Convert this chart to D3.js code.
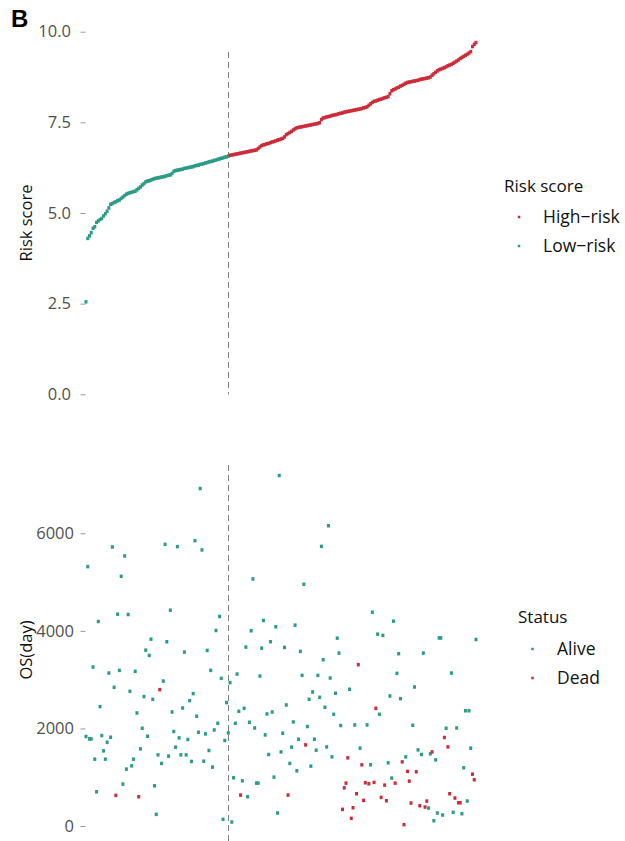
<!DOCTYPE html>
<html>
<head>
<meta charset="utf-8">
<script src="https://cdn.jsdelivr.net/npm/d3@7"></script>
<style>
  html, body { margin: 0; padding: 0; background: #ffffff; }
  svg { display: block; font-family: "Open Sans", "Noto Sans", sans-serif; }
</style>
</head>
<body>
<svg id="chart" width="625" height="841"></svg>
<script>
// Patients ordered by ascending risk score
const riskScore = [
  2.55, 4.30, 4.37, 4.46, 4.58, 4.62, 4.74, 4.78, 4.82, 4.85,
  4.92, 4.98, 5.05, 5.14, 5.24, 5.26, 5.29, 5.31, 5.34, 5.36,
  5.40, 5.44, 5.48, 5.52, 5.54, 5.56, 5.57, 5.59, 5.60, 5.64,
  5.68, 5.72, 5.77, 5.81, 5.86, 5.88, 5.89, 5.91, 5.93, 5.95,
  5.96, 5.97, 5.98, 5.99, 6.00, 6.01, 6.03, 6.04, 6.05, 6.09,
  6.15, 6.17, 6.18, 6.19, 6.20, 6.21, 6.23, 6.24, 6.25, 6.26,
  6.27, 6.28, 6.30, 6.31, 6.32, 6.34, 6.35, 6.36, 6.38, 6.39,
  6.41, 6.42, 6.43, 6.45, 6.46, 6.48, 6.49, 6.51, 6.52, 6.54,
  6.55, 6.57,
  6.59, 6.60, 6.61, 6.62, 6.63, 6.64, 6.65, 6.66, 6.67, 6.68,
  6.69, 6.70, 6.71, 6.72, 6.73, 6.74, 6.78, 6.82, 6.86, 6.88,
  6.89, 6.91, 6.92, 6.94, 6.96, 6.97, 6.99, 7.01, 7.02, 7.04,
  7.06, 7.10, 7.16, 7.19, 7.22, 7.25, 7.29, 7.32, 7.35, 7.36,
  7.37, 7.38, 7.39, 7.40, 7.41, 7.42, 7.43, 7.44, 7.45, 7.46,
  7.47, 7.49, 7.58, 7.62, 7.63, 7.65, 7.66, 7.67, 7.69, 7.70,
  7.71, 7.72, 7.74, 7.75, 7.76, 7.78, 7.79, 7.80, 7.81, 7.82,
  7.83, 7.84, 7.85, 7.86, 7.87, 7.88, 7.90, 7.91, 7.93, 7.97,
  8.01, 8.05, 8.08, 8.09, 8.11, 8.13, 8.14, 8.16, 8.18, 8.19,
  8.21, 8.29, 8.37, 8.40, 8.42, 8.45, 8.47, 8.50, 8.52, 8.55,
  8.58, 8.60, 8.61, 8.62, 8.63, 8.64, 8.65, 8.66, 8.68, 8.69,
  8.70, 8.71, 8.72, 8.73, 8.75, 8.80, 8.84, 8.88, 8.92, 8.95,
  8.97, 8.99, 9.01, 9.03, 9.06, 9.08, 9.10, 9.13, 9.16, 9.19,
  9.22, 9.26, 9.29, 9.32, 9.35, 9.38, 9.41, 9.45, 9.59, 9.65,
  9.70
];

// Number of patients in the low-risk group (the first ones in risk order)
const lowRiskCount = 82;
const riskGroups = ["High\u2212risk", "Low\u2212risk"];

// Overall survival in days, same patient order
const osDays = [
  1834, 5317, 1785, 1785, 3258, 1370, 701, 4192, 2447, 1855,
  1540, 1370, 1718, 3135, 1820, 5720, 2843, 628, 4342, 3190,
  5119, 859, 5536, 1166, 4335, 2761, 1233, 1370, 3170, 2317,
  600, 1581, 2004, 2652, 3605, 1840, 3497, 3830, 2597, 824,
  239, 1458, 2795, 1282, 2971, 5773, 3777, 1432, 4424, 2337,
  1937, 1616, 5726, 1806, 1458, 2419, 3564, 1458, 1773, 2570,
  1323, 2714, 5849, 2250, 1922, 6918, 5659, 1329, 1888, 3599,
  1548, 3190, 1207, 1969, 4008, 2106, 4295, 3027, 137, 1753,
  2530, 1908,
  2939, 82, 988, 2106, 3115, 2352, 634, 926, 2413, 3667,
  600, 2127, 4002, 5065, 2010, 879, 879, 3074, 3646, 4213,
  1867, 2297, 1466, 3777, 2337, 1002, 4084, 266, 7184, 1519,
  1902, 3661, 2481, 634, 1282, 1616, 2133, 4117, 1131, 1779,
  3579, 3088, 4955, 1663, 2039, 2597, 1227, 2747, 1779, 1554,
  3088, 2638, 5732, 3409, 2434, 1622, 6155, 3033, 1417, 2290,
  2720, 3851, 3544, 2059, 341, 783, 879, 1397, 2802, 157,
  374, 2072, 661, 3307, 1595, 1254, 525, 886, 2072, 865,
  1254, 4383, 894, 2413, 3933, 2290, 587, 3906, 838, 518,
  1295, 2665, 982, 4199, 879, 3129, 3532, 2611, 1315, 27,
  1417, 1119, 920, 470, 2065, 2849, 1111, 1560, 415, 1466,
  3544, 389, 511, 368, 1479, 1519, 108, 1356, 266, 3855,
  3855, 225, 1814, 2004, 1622, 661, 3135, 280, 573, 2010,
  477, 477, 252, 1193, 2362, 511, 2362, 1595, 1063, 947,
  3824
];

// Vital status, same patient order (0 = Alive, 1 = Dead)
const statusLabels = ["Alive", "Dead"];
const vitalStatus = [
  0,0,0,0,0,0,0,0,0,0,
  0,0,0,0,0,0,0,1,0,0,
  0,0,0,0,0,0,0,0,0,0,
  1,0,0,0,0,0,0,0,0,0,
  0,0,1,0,0,0,0,0,0,0,
  0,0,0,0,0,0,0,0,0,0,
  0,0,0,0,0,0,0,0,0,0,
  0,0,0,0,0,0,0,0,0,0,
  0,0,
  0,0,0,0,0,0,1,0,0,0,
  0,0,0,0,0,0,0,0,0,0,
  0,0,0,0,0,0,0,0,0,0,
  0,0,0,1,0,0,0,0,0,0,
  0,0,0,1,0,0,0,0,0,0,
  0,0,0,0,0,0,0,0,0,0,
  0,0,0,0,1,1,1,1,0,1,
  1,0,1,1,0,1,1,1,0,1,
  0,0,1,1,0,0,1,0,1,1,
  0,0,0,0,1,0,0,0,1,1,
  0,1,1,1,0,0,1,0,1,0,
  0,1,1,0,0,1,0,0,0,0,
  0,0,1,0,1,1,0,0,1,0,
  1,1,0,0,0,0,0,0,1,1,
  0
];

const riskTicks = [0, 2.5, 5, 7.5, 10];
const osTicks = [0, 2000, 4000, 6000];

const RED = "#cc2c39";
const GREEN = "#2a9c86";

const svg = d3.select("#chart");
const N = riskScore.length;

const x = d3.scaleLinear().domain([1, N]).range([86, 476]);
const yRisk = d3.scaleLinear().domain([0, 10]).range([394.3, 31.7]);
const yOS = d3.scaleLinear().domain([0, 6000]).range([826, 533.3]);

const patients = riskScore.map((r, i) => ({
  idx: i + 1,
  risk: r,
  group: i < lowRiskCount ? 1 : 0,
  os: osDays[i],
  status: vitalStatus[i]
}));

// Panel label
svg.append("text")
  .attr("x", 11).attr("y", 27)
  .attr("font-family", "Liberation Sans, Arial, sans-serif")
  .attr("font-weight", "bold").attr("font-size", 24)
  .attr("fill", "#000").text("B");

function yAxis(scale, ticks, fmt, tickX, labelRight) {
  const g = svg.append("g").attr("transform", `translate(${tickX},0)`);
  const axis = d3.axisLeft(scale).tickValues(ticks).tickFormat(fmt)
    .tickSize(5).tickPadding(labelRight);
  g.call(axis);
  g.select(".domain").remove();
  g.selectAll(".tick line").attr("stroke", "#9a9a9a").attr("stroke-width", 1)
    .attr("transform", "translate(0.5,0)");
  g.selectAll(".tick text")
    .attr("font-family", "Open Sans, sans-serif")
    .attr("font-size", 16.5).attr("fill", "#505050");
  return g;
}

yAxis(yRisk, riskTicks, d3.format(".1f"), 85, 9);
yAxis(yOS, osTicks, d3.format("d"), 85, 6);

// Axis titles
svg.append("text")
  .attr("transform", "translate(32,223) rotate(-90)")
  .attr("text-anchor", "middle").attr("font-size", 16.5).attr("fill", "#111")
  .text("Risk score");
svg.append("text")
  .attr("transform", "translate(32,650) rotate(-90)")
  .attr("text-anchor", "middle").attr("font-size", 16.5).attr("fill", "#111")
  .text("OS(day)");

// Cut-off between risk groups
const cutX = Math.round(x(lowRiskCount)) + 0.5;
svg.append("line")
  .attr("x1", cutX).attr("x2", cutX).attr("y1", 52).attr("y2", yRisk(0))
  .attr("stroke", "#808080").attr("stroke-width", 1).attr("stroke-dasharray", "6,4");
svg.append("line")
  .attr("x1", cutX).attr("x2", cutX).attr("y1", 465).attr("y2", 841)
  .attr("stroke", "#808080").attr("stroke-width", 1).attr("stroke-dasharray", "6,4");

// Risk score points
const pw = 3, ph = 3.5;
svg.append("g").selectAll("rect").data(patients).join("rect")
  .attr("x", d => x(d.idx) - pw / 2)
  .attr("y", d => yRisk(d.risk) - ph / 2)
  .attr("width", pw).attr("height", ph)
  .attr("fill", d => d.group === 0 ? RED : GREEN);

// Survival points
svg.append("g").selectAll("rect").data(patients).join("rect")
  .attr("x", d => x(d.idx) - pw / 2)
  .attr("y", d => yOS(d.os) - ph / 2)
  .attr("width", pw).attr("height", ph)
  .attr("fill", d => d.status === 1 ? RED : GREEN);

// Legends
function legend(title, tx, ty, items, keyX, labelX, rowY) {
  svg.append("text").attr("x", tx).attr("y", ty)
    .attr("font-size", 17).attr("fill", "#111").text(title);
  items.forEach((it, k) => {
    svg.append("rect")
      .attr("x", keyX - 1.25).attr("y", rowY[k] - 1.25)
      .attr("width", 2.5).attr("height", 2.5).attr("fill", it.color);
    svg.append("text").attr("x", labelX).attr("y", rowY[k])
      .attr("dy", "0.35em").attr("font-size", 17.5).attr("fill", "#111")
      .text(it.label);
  });
}

legend("Risk score", 504, 192,
  [{ label: riskGroups[0], color: RED }, { label: riskGroups[1], color: GREEN }],
  519, 543, [217, 246]);
legend("Status", 518, 623,
  [{ label: statusLabels[0], color: GREEN }, { label: statusLabels[1], color: RED }],
  532.5, 557, [649, 678]);
</script>
</body>
</html>
